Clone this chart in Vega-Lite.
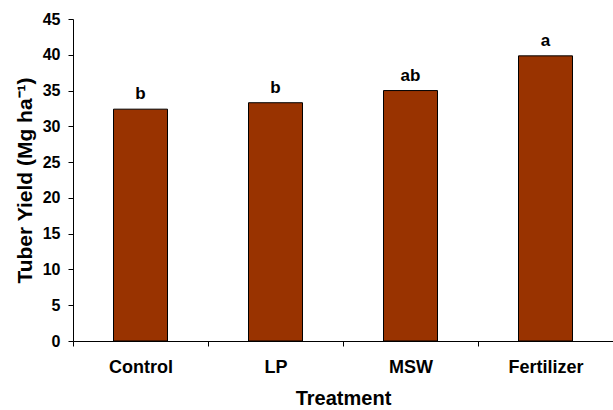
{
  "$schema": "https://vega.github.io/schema/vega-lite/v6.json",
  "autosize": {"type": "none"},
  "padding": {"left": 73, "top": 19, "right": 0, "bottom": 69},
  "width": 540,
  "height": 322,
  "background": "white",
  "config": {
    "view": {"stroke": null},
    "font": "Liberation Sans",
    "axis": {
      "domainColor": "black",
      "tickColor": "black",
      "labelColor": "black",
      "titleColor": "black",
      "labelFont": "Liberation Sans",
      "titleFont": "Liberation Sans",
      "labelFontWeight": "bold",
      "titleFontWeight": "bold",
      "grid": false,
      "domainWidth": 1,
      "tickWidth": 1
    }
  },
  "data": {
    "values": [
      {"Treatment": "Control", "Yield": 32.4, "Letter": "b"},
      {"Treatment": "LP", "Yield": 33.3, "Letter": "b"},
      {"Treatment": "MSW", "Yield": 35.0, "Letter": "ab"},
      {"Treatment": "Fertilizer", "Yield": 39.85, "Letter": "a"}
    ]
  },
  "encoding": {
    "x": {
      "field": "Treatment",
      "type": "nominal",
      "sort": null,
      "scale": {"paddingInner": 0.6, "paddingOuter": 0.3},
      "axis": {
        "title": "Treatment",
        "titleFontSize": 20,
        "titlePadding": 12,
        "labelFontSize": 18,
        "labelAngle": 0,
        "labelPadding": 12,
        "tickOffset": -67.5,
        "labelOffset": 67.5,
        "tickSize": 5
      }
    },
    "y": {
      "field": "Yield",
      "type": "quantitative",
      "scale": {"domain": [0, 45], "nice": false},
      "axis": {
        "title": "Tuber Yield (Mg ha⁻¹)",
        "titleFontSize": 21,
        "titlePadding": 7,
        "labelFontSize": 16,
        "tickSize": 5,
        "labelPadding": 8,
        "values": [0, 5, 10, 15, 20, 25, 30, 35, 40, 45]
      }
    }
  },
  "layer": [
    {
      "mark": {"type": "bar", "color": "#993300", "stroke": "black", "strokeWidth": 1}
    },
    {
      "mark": {"type": "text", "dy": -15, "fontSize": 17, "fontWeight": "bold", "color": "black", "font": "Liberation Sans"},
      "encoding": {"text": {"field": "Letter"}}
    }
  ]
}
